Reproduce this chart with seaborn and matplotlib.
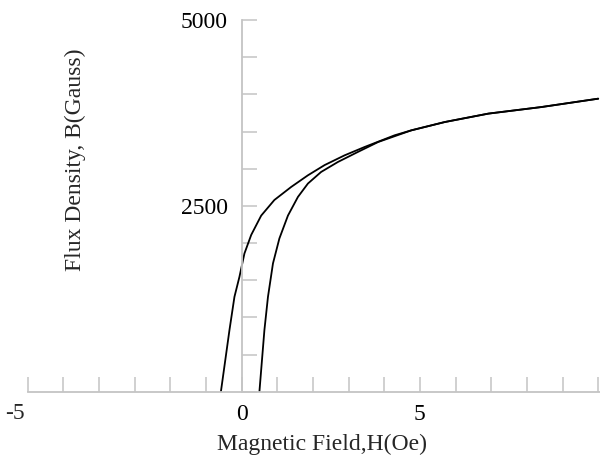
import matplotlib
matplotlib.use("Agg")
import matplotlib.pyplot as plt
import matplotlib.transforms as mtransforms
import numpy as np
import pandas as pd
import seaborn as sns

# Hysteresis loop: descending (upper) and ascending (lower) branches
desc_h = [-0.58, -0.34, -0.20, -0.06, 0.08, 0.27, 0.55, 0.92, 1.39, 1.86,
          2.33, 2.89, 3.45, 4.29, 4.76, 5.70, 6.92, 8.40, 10.0]
desc_b = [0, 829, 1277, 1546, 1860, 2110, 2370, 2580, 2755, 2912,
          3050, 3181, 3293, 3450, 3517, 3629, 3742, 3830, 3943]

asc_h = [0.50, 0.64, 0.74, 0.88, 1.06, 1.30, 1.58, 1.86, 2.23, 2.70,
         3.26, 3.83, 4.76, 5.70, 6.92, 8.40, 10.0]
asc_b = [0, 829, 1277, 1726, 2062, 2370, 2621, 2801, 2957, 3091,
         3226, 3360, 3517, 3629, 3742, 3830, 3943]

x_ticks = list(range(-6, 11))
y_ticks = list(range(0, 5001, 500))
y_labeled = {2500: "2500", 5000: "5000"}
x_labeled = {0: "0", 5: "5"}

sns.set_theme(style="white")
plt.rcParams["font.family"] = ["Liberation Serif", "DejaVu Serif"]

fig = plt.figure(figsize=(6.0, 4.68), dpi=100)
ax = fig.add_axes([0.046, 0.163, 0.954, 0.794])

desc = pd.DataFrame({"H": desc_h, "B": desc_b})
asc = pd.DataFrame({"H": asc_h, "B": asc_b})
sns.lineplot(data=desc, x="H", y="B", sort=False, color="black", lw=1.3, ax=ax)
sns.lineplot(data=asc, x="H", y="B", sort=False, color="black", lw=1.3, ax=ax)

ax.set_xlim(-6, 10.05)
ax.set_ylim(0, 5000)

grey = "#c4c4c4"
for side in ("top", "right"):
    ax.spines[side].set_visible(False)
ax.spines["left"].set_position(("data", 0))
for side in ("left", "bottom"):
    ax.spines[side].set_color(grey)
    ax.spines[side].set_linewidth(1.3)

ax.set_xticks(x_ticks)
ax.set_xticklabels([x_labeled.get(t, "") for t in x_ticks])
ax.set_yticks(y_ticks)
ax.set_yticklabels([y_labeled.get(t, "") for t in y_ticks])
ax.tick_params(axis="x", bottom=True, direction="in", length=10.5, width=1.1,
               color=grey, pad=9, labelsize=17, labelcolor="black")
ax.tick_params(axis="y", left=True, direction="in", length=11, width=1.1,
               color=grey, pad=10, labelsize=17, labelcolor="black")

# left-most field label sits past the end of the axis line
trans = mtransforms.blended_transform_factory(ax.transData, ax.transAxes)
ax.text(-6.36, -0.058, "-5", transform=trans, ha="center", va="center",
        fontsize=17, clip_on=False)

ax.set_xlabel("Magnetic Field,H(Oe)", fontsize=17, va="center")
ax.xaxis.set_label_coords(0.514, -0.143)
ax.set_ylabel("Flux Density, B(Gauss)", fontsize=17, va="center")
ax.yaxis.set_label_coords(0.083, 0.623)

fig.savefig("out.png", dpi=100, facecolor="white")
